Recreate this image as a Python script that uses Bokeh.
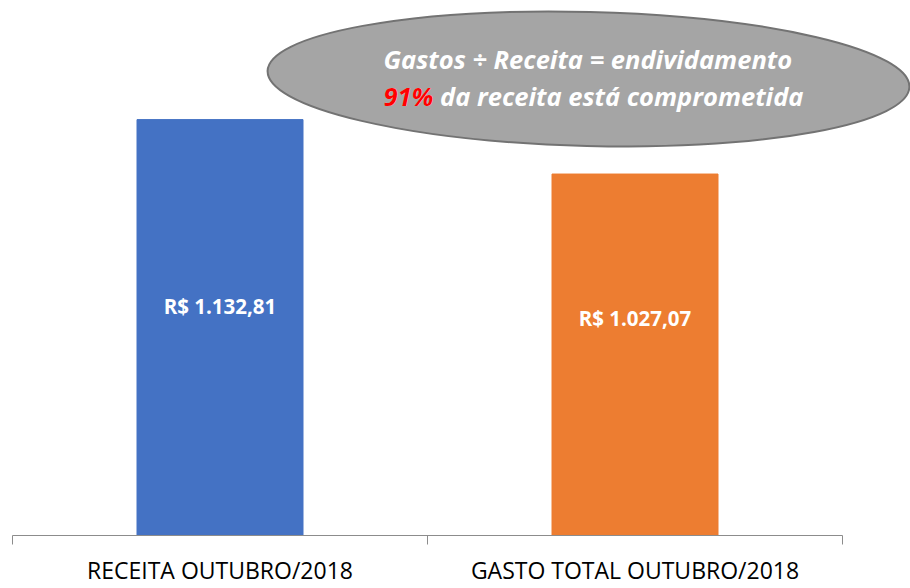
from bokeh.plotting import figure
from bokeh.models import Range1d, LinearAxis, FixedTicker, Label, ColumnDataSource
from bokeh.embed import file_html
from bokeh.resources import INLINE
from bokeh.core.properties import value

# ---- data ----
categories = ["RECEITA OUTUBRO/2018", "GASTO TOTAL OUTUBRO/2018"]
values = [1132.81, 1027.07]
value_labels = ["R$ 1.132,81", "R$ 1.027,07"]
bar_colors = ["#4472C4", "#ED7D31"]
callout_line1 = "Gastos ÷ Receita = endividamento"
callout_pct = "91%"
callout_line2 = "91% da receita está comprometida"

# ---- layout constants (pixels) ----
W, H = 910, 588
PLOT_L = 12          # left end of the category axis
CAT_W = 415          # pixel width of one category
AXIS_Y = 539         # pixel row of the axis line
Y_MIN = 325
PX_PER_UNIT = 0.5187
TEXT_SHIFT = 7       # renderer draws text slightly low; compensate


def dx(px):
    return (px - PLOT_L) / CAT_W


def dy(py):
    return Y_MIN + (AXIS_Y - py) / PX_PER_UNIT


n = len(categories)
p = figure(width=W, height=H,
           x_range=Range1d(dx(0), dx(W)), y_range=Range1d(Y_MIN, dy(0)),
           output_backend="svg", toolbar_location=None,
           x_axis_location=None, y_axis_location=None,
           min_border_left=0, min_border_right=0, min_border_top=0,
           min_border_bottom=H - AXIS_Y)
p.outline_line_color = None
p.background_fill_color = "white"
p.border_fill_color = "white"
for g in p.grid:
    g.visible = False

src = ColumnDataSource(dict(x=[i + 0.5 for i in range(n)], top=values,
                            color=bar_colors, label=value_labels))
p.vbar(x="x", top="top", bottom=Y_MIN, width=0.4, color="color", source=src)

# value labels inside bars (baseline pixel rows)
label_baseline_px = [315, 327]
lab_src = ColumnDataSource(dict(x=[i + 0.5 for i in range(n)],
                                y=[dy(b - TEXT_SHIFT) for b in label_baseline_px],
                                text=value_labels))
p.text(x="x", y="y", text="text", source=lab_src, text_align="center",
       text_baseline="alphabetic", text_color="white",
       text_font=value("Open Sans"), text_font_style="bold",
       text_font_size="20.5px")

# category axis
ax = LinearAxis(ticker=FixedTicker(ticks=[i + 0.5 for i in range(n)],
                                   minor_ticks=list(range(n + 1))),
                bounds=(0, n))
ax.major_label_overrides = {i + 0.5: c for i, c in enumerate(categories)}
ax.axis_line_color = "#8C8C8C"
ax.axis_line_width = 1
ax.major_tick_line_color = None
ax.major_tick_out = 9
ax.major_tick_in = 0
ax.minor_tick_line_color = "#8C8C8C"
ax.minor_tick_out = 9
ax.minor_tick_in = 0
ax.major_label_text_font = "Open Sans"
ax.major_label_text_font_size = "23px"
ax.major_label_text_color = "#000000"
ax.major_label_standoff = 9
p.add_layout(ax, "below")

# callout ellipse
p.ellipse(x=dx(588), y=dy(79), width=642, height=134,
          width_units="screen", height_units="screen", angle=-0.025,
          fill_color="#A5A5A5", line_color="#737373", line_width=2)

TX = 383
FS = "25.5px"
p.add_layout(Label(x=dx(TX), y=dy(66 - TEXT_SHIFT), text=callout_line1,
                   text_align="left", text_baseline="alphabetic",
                   text_font="Open Sans", text_font_style="bold italic",
                   text_font_size=FS, text_color="white"))
p.add_layout(Label(x=dx(TX), y=dy(103 - TEXT_SHIFT), text=callout_line2,
                   text_align="left", text_baseline="alphabetic",
                   text_font="Open Sans", text_font_style="bold italic",
                   text_font_size=FS, text_color="white"))
p.add_layout(Label(x=dx(TX), y=dy(103 - TEXT_SHIFT), text=callout_pct,
                   text_align="left", text_baseline="alphabetic",
                   text_font="Open Sans", text_font_style="bold italic",
                   text_font_size=FS, text_color="#FF0000"))

open("out.html", "w").write(file_html(p, INLINE))
